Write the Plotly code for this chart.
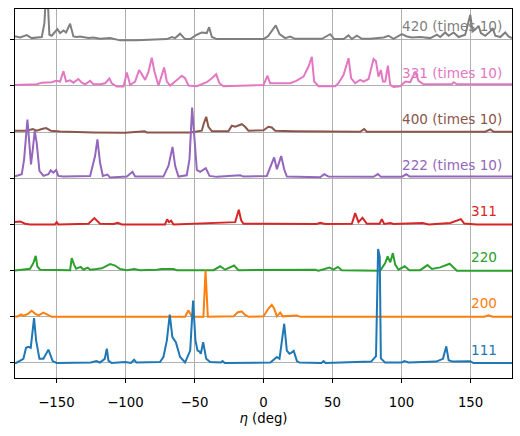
import plotly.graph_objects as go

# ---- data (eta in degrees, intensity in stacked units) ----
labels = ["111", "200", "220", "311", "222 (times 10)", "400 (times 10)", "331 (times 10)", "420 (times 10)"]
colors = ["#1f77b4", "#ff7f0e", "#2ca02c", "#d62728", "#9467bd", "#8c564b", "#e377c2", "#7f7f7f"]
offsets = [0, 1, 2, 3, 4, 5, 6, 7]
label_x = [150, 150, 150, 150, 100, 100, 100, 100]

eta_111 = [-180, -179.2, -173.9, -172.0, -170.3, -168.6, -166.2, -164.7, -162.3, -159.4, -155.8, -152.7, -149.8,
           -125, -121, -118.5, -115.0, -113.5, -112.3, -110, -100.2, -96, -93.7, -92,
           -75, -72.5, -70.0, -67.9, -66.0, -63.5, -60.4, -56.8,
           -53.1, -51.0, -49.3, -47.8, -46.4, -45.4, -43.7, -41.5, -38.6, -31, -29.7, -28,
           5, 9.7, 11.6, 15.0, 16.9, 18.8, 20, 21.9, 24.2, 26, 42, 43.5, 45,
           78, 81.5, 83.0, 84.2, 85.0, 88, 100, 102, 105, 125, 130, 132.4, 134.1, 137, 149.8, 152, 180]
int_111 = [0.0, 0.0, 0.09, 0.33, 0.35, 0.33, 0.97, 0.49, 0.09, 0.09, 0.29, 0.04, 0.0,
           0.01, 0.04, 0.01, 0.09, 0.31, 0.05, 0.0, 0.02, 0.0, 0.07, 0.01,
           0.02, 0.13, 0.49, 1.05, 0.56, 0.45, 0.13, 0.01,
           0.27, 1.35, 0.49, 0.27, 0.25, 0.2, 0.45, 0.09, 0.02, 0.01, 0.04, 0.0,
           0.01, 0.13, 0.09, 0.85, 0.27, 0.2, 0.22, 0.26, 0.04, 0.01, 0.0, 0.04, 0.0,
           0.03, 0.15, 2.47, 2.3, 0.1, 0.01, 0.01, 0.04, 0.01, 0.03, 0.09, 0.36, 0.06, 0.03, 0.04, 0.0, 0.0]

eta_200 = [-180, -178, -175.6, -173.9, -170.3, -167.9, -165.5, -163.0, -159.4, -155.8, -153.4, -56.8, -54.3, -52.4,
           -49.5, -43.5, -42.0, -40.3, -21.7, -18.6, -15.7, -13.3, -10.9, 0, 3.6, 6.0, 7.7, 9.7, 12.1, 14.0,
           24.2, 26.6, 160, 163.0, 166, 180]
int_200 = [0.0, 0.01, 0.05, 0.02, 0.07, 0.13, 0.07, 0.03, 0.09, 0.04, 0.0, 0.0, 0.14, 0.03,
           0.0, 0.0, 1.0, 0.0, 0.01, 0.1, 0.115, 0.04, 0.0, 0.01, 0.18, 0.26, 0.18, 0.01, 0.09, 0.01,
           0.03, 0.0, 0.0, 0.03, 0.0, 0.0]

eta_220 = [-180, -169.1, -166.7, -165.0, -163.8, -161.8, -140.1, -138.9, -137.2, -135.7, -132.4, -130.4, -127.3,
           -125.6, -120.8, -117.1, -111.1, -107.5, -103.9, -99.0, -93.7, -89.4, -77.3, -73.7, -65.2, -62.8,
           -36.2, -31.4, -27.8, -21.3, -18.1, 37.4, 39.9, 47.8, 50.7, 53.9, 56.8, 84.5, 88.2, 89.9, 91.8, 93.7,
           95.4, 97.8, 102.3, 105.6, 113.5, 118.8, 122.0, 128, 134.8, 138.9, 140.1, 180]
int_220 = [0.0, 0.04, 0.165, 0.32, 0.09, 0.02, 0.01, 0.27, 0.13, 0.04, 0.08, 0.02, 0.065,
           0.02, 0.035, 0.05, 0.14, 0.11, 0.035, 0.01, 0.035, 0.01, 0.02, 0.035, 0.035, 0.01,
           0.01, 0.094, 0.02, 0.11, 0.01, 0.02, 0.0, 0.065, 0.02, 0.08, 0.01, 0.0, 0.165, 0.31, 0.18, 0.38,
           0.13, 0.02, 0.094, 0.01, 0.01, 0.12, 0.035, 0.07, 0.15, 0.02, 0.0, 0.0]

eta_311 = [-180, -176.3, -172.7, -169.1, -151, -149.8, -148.6, -126.8, -122.5, -118.4, -108.7, -105.6, -102.7,
           -71.3, -69.8, -68.4, -66.9, -65.2, -20.5, -17.9, -16.2, -14.5, 0, 10.9, 38.5, 41.1, 44.7, 64.0, 66.4,
           68.8, 71.7, 74.9, 84.1, 85.7, 87.4, 92, 94.2, 115.2, 119.6, 135.3, 143.0, 145.4, 154.6, 180]
int_311 = [0.05, 0.065, 0.015, 0.0, 0.0, 0.05, 0.0, 0.015, 0.137, 0.015, 0.01, 0.035, 0.0,
           0.0, 0.108, 0.05, 0.08, 0.0, 0.05, 0.32, 0.09, 0.015, 0.015, 0.01, 0.01, 0.035, 0.01, 0.015, 0.245,
           0.05, 0.144, 0.015, 0.015, 0.115, 0.01, 0.03, 0.01, 0.03, 0.0, 0.03, 0.115, 0.02, 0.0, 0.0]

eta_222 = [-180, -179.2, -175.1, -173.4, -171.0, -169.6, -168.4, -167.1, -165.7, -164.3, -162.3, -159.4, -155.8,
           -154.1, -152.2, -150.2, -148.6, -144.9, -125.6, -122.0, -120.3, -118.4, -116.4, -113.0, -111.1, -99.0,
           -94.9, -93.0, -72.5, -68.8, -65.9, -64.0, -61.6, -55.6, -53.6, -51.7, -50.2, -48.3, -45.9, -41.8,
           -39.1, -33.8, -16.9, -14.5, 2.4, 5.6, 7.7, 9.7, 12.8, 15.0, 16.9, 41.1, 44.0, 47.1, 79.7, 82.9, 85.0,
           100.2, 103.4, 105.8, 130.4, 180]
int_222 = [0.05, 0.05, 0.086, 0.41, 1.27, 0.77, 0.30, 0.63, 1.02, 0.77, 0.16, 0.05, 0.086,
           0.17, 0.12, 0.18, 0.05, 0.036, 0.05, 0.48, 0.84, 0.34, 0.05, 0.08, 0.015, 0.036,
           0.14, 0.036, 0.036, 0.27, 0.68, 0.27, 0.036, 0.065, 0.41, 1.53, 0.84, 0.18, 0.14, 0.22,
           0.05, 0.03, 0.065, 0.036, 0.05, 0.27, 0.45, 0.195, 0.48, 0.195, 0.036, 0.02, 0.09, 0.036, 0.03, 0.09, 0.03,
           0.03, 0.086, 0.036, 0.036, 0.04]

eta_400 = [-180, -171.5, -167.1, -164.3, -160.6, -157.5, -154.1, -147.3, -123.2, -100.2, -86.2, -84.5, -53.1,
           -44.7, -43.2, -41.5, -39.9, -37.4, -25.4, -22.9, -20.5, -18.1, -15.7, -13.3, -10.9, 0, 3.6, 6.0, 8.5,
           21.7, 70.0, 72.9, 74.9, 160.6, 164.3, 166.7, 180]
int_400 = [0.03, 0.03, 0.065, 0.03, 0.065, 0.086, 0.03, 0.01, -0.007, -0.015, 0.02, -0.007, -0.007,
           0.03, 0.19, 0.33, 0.115, 0.02, 0.02, 0.137, 0.115, 0.144, 0.17, 0.115, 0.03, 0.04, 0.115, 0.1, 0.03,
           0.02, 0.007, 0.065, 0.007, 0.007, 0.058, 0.007, 0.007]

eta_331 = [-180, -179.2, -164.3, -160.6, -153.4, -150.2, -147.3, -144.9, -143.0, -140.1, -137.7, -134.1, -131.6,
           -129.2, -125.6, -123.2, -118.4, -114.7, -111.6, -109.9, -106.3, -101.4, -99.0, -96.6, -93.0, -90.1,
           -88.2, -85.7, -83.3, -80.9, -79.0, -76.1, -73.7, -72.0, -70.0, -67.6, -64.0, -59.2, -56.8, -54.3,
           -48.3, -44.7, -41.1, -37.4, -34.3, -31.9, -29.0, 0.0, 2.9, 4.8, 19.3, 23.7, 29.0, 32.6, 35.0, 36.7,
           39.9, 51.9, 54.3, 58.0, 61.6, 63.5, 66.4, 70.0, 72.5, 76.1, 79.7, 81.4, 83.3, 85.0, 86.5, 88.2, 90.1,
           91.8, 94.2, 99.0, 102.7, 106.3, 109.9, 112.3, 115.9, 136.5, 137.7, 140.1, 180]
int_331 = [0.02, 0.02, 0.035, 0.07, 0.08, 0.11, 0.094, 0.32, 0.094, 0.12, 0.07, 0.15, 0.07,
           0.035, 0.11, 0.035, 0.035, 0.058, 0.16, 0.058, -0.014, -0.014, 0.29, 0.02, 0.094, 0.345,
           0.25, 0.13, 0.31, 0.61, 0.31, 0.007, 0.23, 0.40, 0.094, 0.007, 0.094, 0.22, 0.165, 0.007,
           -0.007, 0.035, 0.08, 0.165, 0.25, 0.058, -0.007, 0.02, 0.22, 0.058, 0.058, 0.108, 0.2, 0.42, 0.63, 0.094,
           -0.007, -0.007, 0.058, 0.24, 0.6, 0.165, 0.058, 0.13, 0.094, 0.15, 0.58, 0.54, 0.2, 0.345, 0.094, 0.094, 0.44,
           0.02, -0.022, -0.007, 0.094, 0.08, 0.31, 0.108, 0.035, 0.04, 0.08, 0.035, 0.035]

eta_420 = [-180, -179.2, -176.3, -171.5, -167.9, -160.6, -158.7, -157.5, -156.5, -155.1, -153.4, -149.3, -147.3,
           -144.9, -143.0, -140.1, -137.7, -135.3, -132.9, -126.8, -123.2, -118.4, -111.1, -103.9, -91.8, -82.1,
           -70.0, -66.4, -64.0, -60.4, -56.8, -53.1, -48.3, -44.7, -41.1, -39.4, -37.4, -33.8, 0, 3.1, 6.0, 8.9,
           11.6, 15.7, 19.3, 22.9, 33.8, 42.3, 48.3, 51.2, 58.0, 61.6, 64.0, 67.6, 71.3, 77.3, 87.0, 90.6, 94.2,
           100.2, 103.9, 107.5, 113.5, 120.8, 125.6, 128.0, 131.6, 134.1, 137.7, 141.3, 146.1, 147.8, 149.8,
           151.4, 153.4, 155.8, 157.5, 160.6, 164.3, 166.0, 167.9, 171.5, 175.1, 177.5, 180]
int_420 = [0.07, 0.07, 0.05, 0.10, 0.035, 0.058, 0.36, 1.0, 1.0, 0.108, 0.086, 0.23, 0.144,
           0.2, 0.158, 0.345, 0.07, 0.058, 0.07, 0.035, 0.05, 0.02, 0.035, -0.014, -0.014, 0.0,
           0.014, 0.058, 0.035, 0.13, 0.014, 0.014, 0.108, 0.158, 0.144, 0.27, 0.058, 0.014, 0.014, 0.07, 0.18, 0.31,
           0.122, 0.035, 0.07, 0.02, 0.02, 0.02, 0.12, 0.014, 0.014, 0.094, 0.014, 0.086, 0.02, 0.02, 0.05, 0.086, 0.02,
           0.12, 0.07, 0.05, 0.058, 0.035, 0.108, 0.058, 0.158, 0.086, 0.158, 0.058, 0.108, 0.29, 0.54,
           0.18, 0.22, 0.30, 0.144, 0.086, 0.18, 0.25, 0.086, 0.058, 0.158, 0.07, 0.035]

etas = [eta_111, eta_200, eta_220, eta_311, eta_222, eta_400, eta_331, eta_420]
ints = [int_111, int_200, int_220, int_311, int_222, int_400, int_331, int_420]

x_ticks = [-150, -100, -50, 0, 50, 100, 150]

fig = go.Figure()
# draw the top series first so lower series sit on top
for i in reversed(range(len(labels))):
    fig.add_trace(go.Scatter(
        x=etas[i], y=[offsets[i] + v for v in ints[i]],
        mode="lines", line=dict(color=colors[i], width=2),
        showlegend=False, hoverinfo="skip"))

for i in range(len(labels)):
    fig.add_annotation(x=label_x[i], y=offsets[i] + 0.29, text=labels[i], showarrow=False,
                       xanchor="left", yanchor="middle", xshift=-2,
                       font=dict(color=colors[i], size=13.6, family="DejaVu Sans"))

axis_common = dict(showline=True, linecolor="black", linewidth=1, mirror=True,
                   ticks="outside", ticklen=4, tickwidth=1, tickcolor="black",
                   showgrid=True, gridcolor="#b0b0b0", gridwidth=1, zeroline=False)

fig.update_xaxes(range=[-180, 180], tickvals=x_ticks, **axis_common,
                 ticklabelstandoff=8,
                 tickfont=dict(size=13.3, color="black", family="DejaVu Sans"),
                 title=dict(text="<i>η</i> (deg)", font=dict(size=13.3, color="black", family="DejaVu Sans"),
                            standoff=4))
fig.update_yaxes(range=[-0.325, 7.665], tickvals=offsets, showticklabels=False, **axis_common)

fig.update_layout(width=520, height=436, margin=dict(l=15, r=8, t=9, b=58),
                  plot_bgcolor="white", paper_bgcolor="white",
                  font=dict(family="DejaVu Sans", color="black"))

fig.write_html("out.html")
